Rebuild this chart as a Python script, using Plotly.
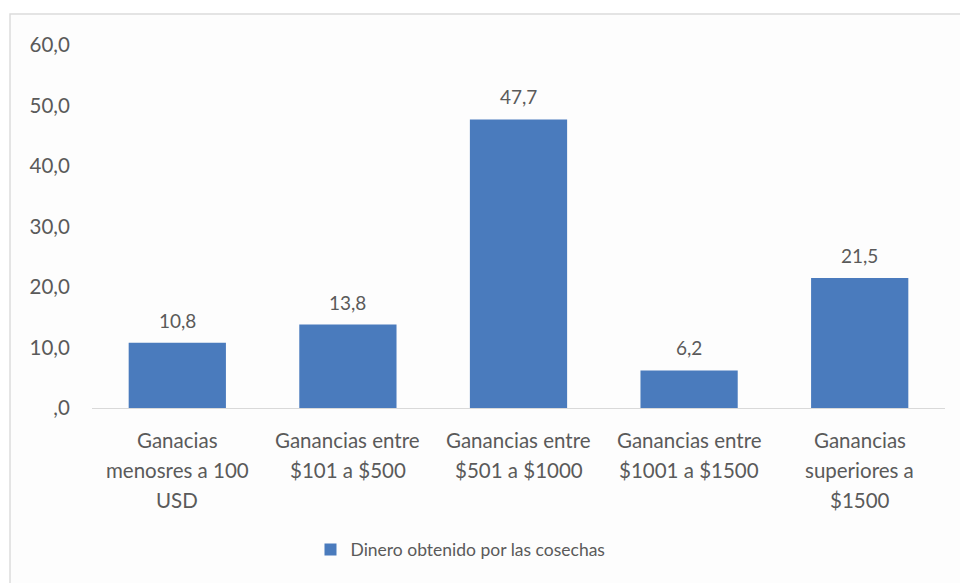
import plotly.graph_objects as go

# Data
categories = [
    ["Ganacias", "menosres a 100", "USD"],
    ["Ganancias entre", "$101 a $500"],
    ["Ganancias entre", "$501 a $1000"],
    ["Ganancias entre", "$1001 a $1500"],
    ["Ganancias", "superiores a", "$1500"],
]
values = [10.8, 13.8, 47.7, 6.2, 21.5]
series_name = "Dinero obtenido por las cosechas"
y_ticks = [0, 10, 20, 30, 40, 50, 60]
y_tick_labels = [",0", "10,0", "20,0", "30,0", "40,0", "50,0", "60,0"]

BAR = "#4a7bbd"
TXT = "#5a5a5a"
FONT = "Lato"

x_pos = list(range(len(values)))

fig = go.Figure()
fig.add_trace(go.Bar(
    x=x_pos, y=values, name=series_name,
    marker=dict(color=BAR, line=dict(width=0)),
    width=0.57, showlegend=True,
))

annotations = []
# value labels above each bar
for xi, v in zip(x_pos, values):
    annotations.append(dict(
        x=xi, y=v, xref="x", yref="y", yanchor="bottom", yshift=9,
        text=f"{v:.1f}".replace(".", ","), showarrow=False,
        font=dict(family=FONT, size=19, color=TXT),
    ))
# wrapped category labels
for xi, lines in zip(x_pos, categories):
    for k, line in enumerate(lines):
        annotations.append(dict(
            x=xi, y=0, xref="x", yref="paper", yanchor="middle",
            yshift=-32 - 30 * k, text=line, showarrow=False,
            font=dict(family=FONT, size=20.5, color=TXT),
        ))

fig.update_layout(
    width=960, height=583,
    margin=dict(l=92, r=15, t=45, b=175),
    paper_bgcolor="white", plot_bgcolor="rgba(0,0,0,0)",
    font=dict(family=FONT, size=18, color=TXT),
    bargap=0.43,
    xaxis=dict(
        range=[-0.5, 4.5], tickvals=x_pos, ticktext=[""] * len(x_pos),
        showline=True, linecolor="#d9d9d9", linewidth=1,
        showgrid=False, zeroline=False, ticks="",
        fixedrange=True,
    ),
    yaxis=dict(
        range=[0, 60], tickvals=y_ticks, ticktext=y_tick_labels,
        showgrid=False, zeroline=False, showline=False,
        ticks="outside", ticklen=17, tickcolor="rgba(0,0,0,0)",
        tickfont=dict(family=FONT, size=20.5, color=TXT),
    ),
    legend=dict(
        orientation="h", x=0.432, xanchor="center", y=-0.39, yanchor="middle",
        font=dict(family=FONT, size=17.5, color=TXT),
        bgcolor="rgba(0,0,0,0)", itemwidth=30,
    ),
    annotations=annotations,
    shapes=[dict(
        type="rect", xref="paper", yref="paper", layer="below",
        x0=-0.0961, x1=1.1, y0=-0.6, y1=1.0854,
        fillcolor="#fdfdfd", line=dict(color="#dcdcdc", width=1.5),
    )],
)

fig.write_html("out.html")
